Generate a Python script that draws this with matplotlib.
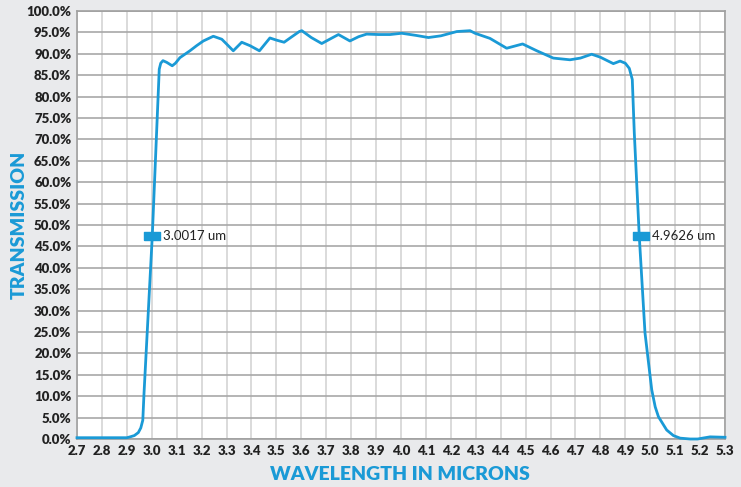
import numpy as np
import matplotlib.pyplot as plt

# transmission curve
wavelength = [2.70, 2.80, 2.90, 2.913, 2.930, 2.946, 2.956, 2.964, 2.969, 3.002,
              3.030, 3.036, 3.045, 3.060, 3.082, 3.095, 3.113, 3.153, 3.180, 3.207,
              3.247, 3.281, 3.300, 3.327, 3.361, 3.394, 3.432, 3.474, 3.500, 3.531,
              3.560, 3.592, 3.602, 3.640, 3.682, 3.720, 3.749, 3.795, 3.830, 3.862,
              3.910, 3.956, 4.003, 4.060, 4.110, 4.160, 4.224, 4.277, 4.297, 4.357,
              4.424, 4.488, 4.545, 4.611, 4.678, 4.720, 4.765, 4.800, 4.852, 4.879,
              4.900, 4.916, 4.928, 4.936, 4.956, 4.979, 5.006, 5.020, 5.033, 5.066,
              5.093, 5.120, 5.160, 5.190, 5.240, 5.300]
transmission = [0.3, 0.3, 0.3, 0.5, 0.8, 1.5, 2.6, 4.4, 10.8, 47.4,
                86.4, 87.8, 88.4, 88.0, 87.2, 87.8, 89.1, 90.7, 91.9, 93.0,
                94.1, 93.4, 92.3, 90.7, 92.7, 91.9, 90.7, 93.7, 93.2, 92.7,
                93.9, 95.2, 95.4, 93.8, 92.4, 93.6, 94.5, 93.0, 94.0, 94.6,
                94.5, 94.5, 94.8, 94.3, 93.8, 94.2, 95.2, 95.4, 94.8, 93.6,
                91.3, 92.3, 90.7, 89.0, 88.6, 89.0, 89.9, 89.2, 87.7, 88.3,
                87.8, 86.6, 84.0, 71.6, 47.4, 24.8, 11.5, 7.5, 5.2, 2.1,
                0.8, 0.2, 0.0, 0.0, 0.5, 0.4]

# half-max edges
edge_x = [3.0017, 4.9626]
edge_y = [47.4, 47.4]
edge_labels = ["3.0017 um", "4.9626 um"]

x_ticks = np.round(np.arange(2.7, 5.31, 0.1), 1)
y_ticks = np.arange(0, 101, 5)

blue = "#1a9ad6"
bg = "#e9eaec"

fig = plt.figure(figsize=(7.41, 4.87), dpi=100, facecolor=bg)
ax = fig.add_axes([77 / 741, 48 / 487, 648 / 741, 428 / 487])
ax.set_facecolor("white")

ax.plot(wavelength, transmission, color=blue, lw=2.0, clip_on=False, zorder=3)

rect = [(-1.7, -1), (1.7, -1), (1.7, 1), (-1.7, 1), (-1.7, -1)]
ax.plot(edge_x, edge_y, linestyle="none", marker=rect, markersize=11,
        color=blue, zorder=4)
for xv, yv, lab in zip(edge_x, edge_y, edge_labels):
    ax.annotate(lab, (xv, yv), xytext=(8, 0), textcoords="offset points",
                va="center", ha="left", fontsize=9.5, family="Lato", color="#222222")

ax.set_xlim(2.7, 5.3)
ax.set_ylim(0, 100)
ax.set_xticks(x_ticks)
ax.set_xticklabels([f"{v:.1f}" for v in x_ticks])
ax.set_yticks(y_ticks)
ax.set_yticklabels([f"{v:.1f}%" for v in y_ticks])

for lab in ax.get_xticklabels() + ax.get_yticklabels():
    lab.set_family("Lato")
    lab.set_fontweight("heavy")
    lab.set_fontsize(9.5)
    lab.set_color("#222222")
ax.tick_params(length=0, pad=4)

ax.xaxis.grid(True, color="#d4d4d4", lw=1.2)
ax.yaxis.grid(True, color="#a8a8a8", lw=1.2)
ax.set_axisbelow(True)
for s in ax.spines.values():
    s.set_color("#a0a0a0")
    s.set_linewidth(1.2)

fig.text(400 / 741, 1 - 475 / 487, "WAVELENGTH IN MICRONS", color=blue,
         family="Lato", fontweight="heavy", fontsize=14, ha="center", va="center")
fig.text(19 / 741, 1 - 225 / 487, "TRANSMISSION", color=blue, rotation=90,
         family="Lato", fontweight="heavy", fontsize=14, ha="center", va="center")

fig.savefig("out.png", dpi=100, facecolor=bg)
